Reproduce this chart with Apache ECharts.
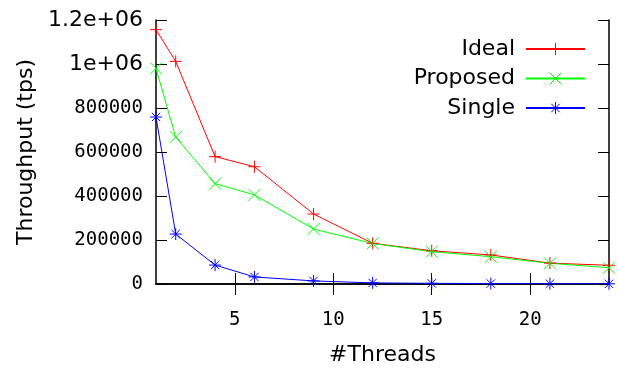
<!DOCTYPE html>
<html>
<head>
<meta charset="utf-8">
<script src="https://cdn.jsdelivr.net/npm/echarts@6/dist/echarts.min.js"></script>
<style>html,body{margin:0;padding:0;background:#fff}#c{width:618px;height:372px}</style>
</head>
<body>
<div id="c"></div>
<script>
const threads = [1, 2, 4, 6, 9, 12, 15, 18, 21, 24];
const ideal = [1156000, 1012000, 579000, 533000, 318000, 185000, 151000, 132000, 95000, 85000];
const proposed = [980000, 668000, 456000, 405000, 250000, 184000, 147000, 124000, 94000, 74000];
const single = [759000, 227000, 86000, 32000, 14000, 5000, 3000, 2000, 1500, 1000];
const xTicks = [5, 10, 15, 20];
const seriesNames = ['Ideal', 'Proposed', 'Single'];

const PLUS = 'path://M0,5H10M5,0V10';
const CROSS = 'path://M0,0L10,10M10,0L0,10';
const STAR = 'path://M0,5H10M5,0V10M1.5,1.5L8.5,8.5M8.5,1.5L1.5,8.5';

function mk(name, vals, color, sym) {
  return {
    name: name, type: 'line', symbol: sym, symbolSize: 12,
    data: threads.map((t, i) => [t, vals[i]]),
    lineStyle: {color: color, width: 1},
    itemStyle: {color: 'rgba(0,0,0,0)', borderColor: color, borderWidth: 1},
    emphasis: {disabled: true}
  };
}
const tickFont = {fontFamily: 'DejaVu Sans Mono', fontSize: 19, color: '#000'};
const chart = echarts.init(document.getElementById('c'));
chart.setOption({
  animation: false,
  grid: {left: 156, right: 9, top: 20, bottom: 88, show: false},
  legend: {
    orient: 'vertical', right: 32, top: 38, align: 'right',
    itemWidth: 59, itemHeight: 15, itemGap: 7.5, padding: 0,
    textStyle: {fontFamily: 'DejaVu Sans', fontSize: 22, color: '#000', padding: [0, 6, 0, 0]},
    itemStyle: {borderWidth: 1},
    data: seriesNames
  },
  xAxis: [{
    type: 'value', min: 1, max: 24, position: 'bottom',
    name: '#Threads', nameLocation: 'middle', nameGap: 60,
    nameTextStyle: {fontFamily: 'DejaVu Sans', fontSize: 22, color: '#000'},
    axisLine: {show: true, lineStyle: {color: '#000', width: 1.5}},
    axisTick: {show: true, inside: true, length: 11, customValues: xTicks, lineStyle: {color: '#000'}},
    axisLabel: Object.assign({customValues: xTicks, margin: 27}, tickFont),
    splitLine: {show: false}
  }, {
    type: 'value', min: 1, max: 24, position: 'top',
    axisLine: {show: true, lineStyle: {color: '#000', width: 1.5}},
    axisTick: {show: true, inside: true, length: 11, customValues: xTicks, lineStyle: {color: '#000'}},
    axisLabel: {show: false}, splitLine: {show: false}
  }],
  yAxis: [{
    type: 'value', min: 0, max: 1200000, interval: 200000, position: 'left',
    name: 'Throughput (tps)', nameLocation: 'middle', nameGap: 119, nameRotate: 90,
    nameTextStyle: {fontFamily: 'DejaVu Sans', fontSize: 22, color: '#000'},
    axisLine: {show: true, lineStyle: {color: '#000', width: 1.5}},
    axisTick: {show: true, inside: true, length: 11, lineStyle: {color: '#000'}},
    axisLabel: Object.assign({
      margin: 13,
      formatter: v => v === 1000000 ? '{e|1e+06}' : (v === 1200000 ? '{e|1.2e+06}' : String(v)),
      rich: {e: {fontFamily: 'DejaVu Sans', fontSize: 22, color: '#000'}}
    }, tickFont),
    splitLine: {show: false}
  }, {
    type: 'value', min: 0, max: 1200000, interval: 200000, position: 'right',
    axisLine: {show: true, lineStyle: {color: '#000', width: 1.5}},
    axisTick: {show: true, inside: true, length: 11, lineStyle: {color: '#000'}},
    axisLabel: {show: false}, splitLine: {show: false}
  }],
  series: [
    mk(seriesNames[0], ideal, '#ff0000', PLUS),
    mk(seriesNames[1], proposed, '#00ff00', CROSS),
    mk(seriesNames[2], single, '#0000ff', STAR)
  ]
});
</script>
</body>
</html>
